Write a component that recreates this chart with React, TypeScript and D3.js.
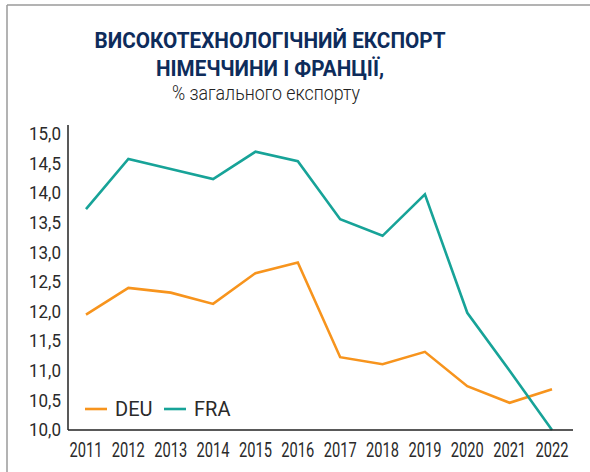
import React from "react";
import * as d3 from "d3";

const years = ["2011","2012","2013","2014","2015","2016","2017","2018","2019","2020","2021","2022"];
const deu = [11.95, 12.40, 12.32, 12.13, 12.65, 12.83, 11.23, 11.11, 11.32, 10.74, 10.46, 10.69];
const fra = [13.73, 14.58, 14.41, 14.24, 14.70, 14.54, 13.56, 13.28, 13.98, 11.98, 11.0, 10.0];
const yTicks = [10, 10.5, 11, 11.5, 12, 12.5, 13, 13.5, 14, 14.5, 15];
const seriesNames = ["DEU", "FRA"];
const colors = ["#F7941D", "#17A398"];

export default function App() {
  const W = 590, H = 472;
  const x = d3.scalePoint<string>().domain(years).range([86, 552]);
  const y = d3.scaleLinear().domain([10, 15]).range([430, 134]);
  const line = d3.line<number>().x((_, i) => x(years[i]) as number).y((d) => y(d));
  const fmt = (v: number) => d3.format(".1f")(v).replace(".", ",");
  const data = [deu, fra];
  return (
    <svg width={W} height={H} style={{ position: "absolute", left: 0, top: 0 }} fontFamily="Roboto, 'Noto Sans', sans-serif">
      <rect width={W} height={H} fill="#fff" />
      <line x1={7} y1={5} x2={W} y2={5} stroke="#9a9a9a" strokeWidth={1.5} />
      <line x1={7} y1={5} x2={7} y2={H} stroke="#9a9a9a" strokeWidth={1.5} />
      <text x={270} y={48} textAnchor="middle" fontSize={22.5} fontWeight={700} fill="#0E2C5B" textLength={351} lengthAdjust="spacingAndGlyphs">ВИСОКОТЕХНОЛОГІЧНИЙ ЕКСПОРТ</text>
      <text x={270} y={76} textAnchor="middle" fontSize={22.5} fontWeight={700} fill="#0E2C5B" textLength={228} lengthAdjust="spacingAndGlyphs">НІМЕЧЧИНИ І ФРАНЦІЇ,</text>
      <text x={266} y={100} textAnchor="middle" fontSize={20} fontWeight={300} fill="#222" textLength={188} lengthAdjust="spacingAndGlyphs">% загального експорту</text>
      {yTicks.map((t) => (
        <text key={t} x={61} y={y(t)} dy="0.33em" textAnchor="end" fontSize={19} fontWeight={400} fill="#2a2a2a" textLength={32} lengthAdjust="spacingAndGlyphs">{fmt(t)}</text>
      ))}
      {years.map((yr) => (
        <text key={yr} x={x(yr)} y={456.5} textAnchor="middle" fontSize={20} fontWeight={400} fill="#2a2a2a" textLength={33} lengthAdjust="spacingAndGlyphs">{yr}</text>
      ))}
      {data.map((s, i) => (
        <path key={i} d={line(s) || ""} fill="none" stroke={colors[i]} strokeWidth={2.6} strokeLinejoin="miter" />
      ))}
      <line x1={68} y1={125} x2={68} y2={430} stroke="#222" strokeWidth={1.5} />
      <line x1={68} y1={430} x2={573} y2={430} stroke="#222" strokeWidth={1.5} />
      {seriesNames.map((n, i) => {
        const lx = [85, 164][i];
        return (
          <g key={n}>
            <line x1={lx} y1={409} x2={lx + 22} y2={409} stroke={colors[i]} strokeWidth={2.6} />
            <text x={lx + 30} y={416} fontSize={20} fontWeight={400} fill="#2a2a2a">{n}</text>
          </g>
        );
      })}
    </svg>
  );
}
